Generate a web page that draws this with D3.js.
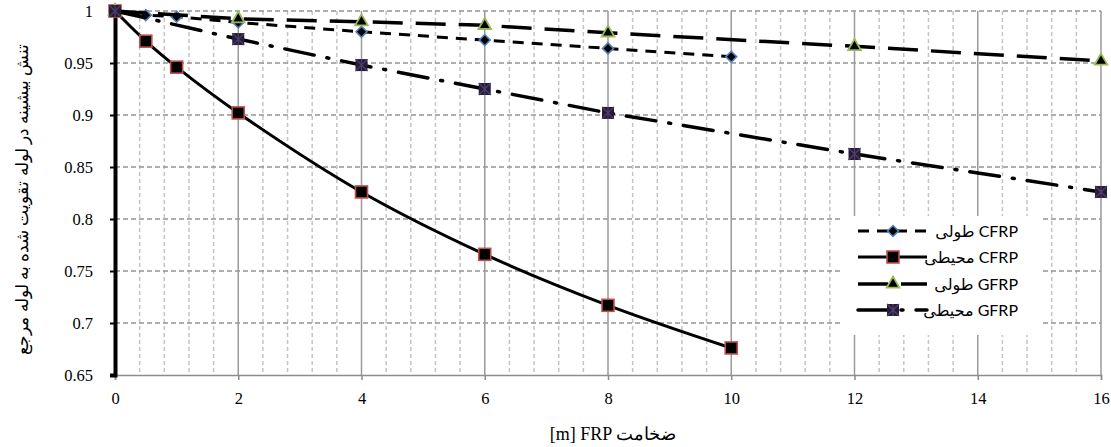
<!DOCTYPE html>
<html><head><meta charset="utf-8">
<script src="https://cdn.jsdelivr.net/npm/d3@7/dist/d3.min.js"></script>
<style>body{margin:0;background:#fff}svg{display:block}</style>
</head><body><svg id="c" width="1111" height="447"></svg>
<script>
const xTicks = [0,2,4,6,8,10,12,14,16];
const yTicks = [0.65,0.7,0.75,0.8,0.85,0.9,0.95,1];
const yTickLabels = ["0.65","0.7","0.75","0.8","0.85","0.9","0.95","1"];
const seriesNames = ["CFRP طولی","CFRP محیطی","GFRP طولی","GFRP محیطی"];
const legendLabels = ["طولی CFRP","محیطی CFRP","طولی GFRP","محیطی GFRP"];
const cfrpLongX = [0,0.5,1,2,4,6,8,10];
const cfrpLongY = [1,0.996,0.9945,0.989,0.980,0.972,0.964,0.956];
const cfrpHoopX = [0,0.5,1,2,4,6,8,10];
const cfrpHoopY = [1,0.971,0.946,0.902,0.826,0.766,0.717,0.676];
const gfrpLongX = [0,2,4,6,8,12,16];
const gfrpLongY = [1,0.9925,0.9897,0.9862,0.979,0.966,0.952];
const gfrpHoopX = [0,2,4,6,8,12,16];
const gfrpHoopY = [1,0.973,0.948,0.925,0.902,0.8625,0.826];
const xTitle = "[m] FRP ضخامت";
const yTitle = "تنش بیشینه در لوله تقویت شده به لوله مرجع";

const svg = d3.select("#c");
const x = d3.scaleLinear().domain([0,16]).range([115,1101]);
const y = d3.scaleLinear().domain([0.65,1]).range([375,11]);
const serif = "'Liberation Serif','Times New Roman','DejaVu Serif',serif";
const sans = "Lato,'Liberation Sans','DejaVu Sans',sans-serif";

// minor vertical grid
const minor = d3.range(0,16.001,0.4).filter(v => Math.abs(v/2-Math.round(v/2))>1e-6);
svg.append("g").selectAll("line").data(minor).join("line")
  .attr("x1",d=>x(d)).attr("x2",d=>x(d)).attr("y1",y(1)).attr("y2",y(0.65))
  .attr("stroke","#c4c4c4").attr("stroke-width",1.5).attr("stroke-dasharray","4,3");
// horizontal grid
svg.append("g").selectAll("line").data(yTicks.filter(v=>v>0.65)).join("line")
  .attr("x1",x(0)).attr("x2",x(16)).attr("y1",d=>y(d)).attr("y2",d=>y(d))
  .attr("stroke","#949494").attr("stroke-width",1.5).attr("stroke-dasharray","5,3");
// major vertical grid
svg.append("g").selectAll("line").data(xTicks.filter(v=>v>0)).join("line")
  .attr("x1",d=>x(d)).attr("x2",d=>x(d)).attr("y1",y(1)).attr("y2",y(0.65))
  .attr("stroke","#9a9a9a").attr("stroke-width",1.5);

// x axis
const xAxis = d3.axisBottom(x).tickValues(xTicks).tickSize(5).tickFormat(d3.format("d"));
const gx = svg.append("g").attr("transform",`translate(0,${y(0.65)})`).call(xAxis);
gx.select(".domain").attr("stroke","#8c8c8c").attr("stroke-width",1.5);
gx.selectAll(".tick line").attr("stroke","#8c8c8c").attr("stroke-width",1.5);
gx.selectAll(".tick text").attr("fill","#000").attr("dy","1.3em")
  .style("font-family",serif).style("font-size","16.5px");

// y axis
const yAxis = d3.axisLeft(y).tickValues(yTicks).tickSize(5).tickFormat((d,i)=>yTickLabels[i]);
const gy = svg.append("g").attr("transform",`translate(${x(0)},0)`).call(yAxis);
gy.select(".domain").attr("stroke","#000").attr("stroke-width",4);
gy.selectAll(".tick line").attr("stroke","#000").attr("stroke-width",2);
gy.selectAll(".tick text").attr("fill","#000").attr("x",-22)
  .style("font-family",serif).style("font-size","16.5px");

const styles = [
  {dash:"11,8", width:3, curve:d3.curveLinear, marker:"diamond"},
  {dash:null, width:3, curve:d3.curveCatmullRom, marker:"square"},
  {dash:"30,13", width:3.5, curve:d3.curveLinear, marker:"triangle"},
  {dash:"30,13,2,13", width:3.5, curve:d3.curveLinear, marker:"xsquare"}
];
const data = [
  cfrpLongX.map((v,i)=>[v,cfrpLongY[i]]),
  cfrpHoopX.map((v,i)=>[v,cfrpHoopY[i]]),
  gfrpLongX.map((v,i)=>[v,gfrpLongY[i]]),
  gfrpHoopX.map((v,i)=>[v,gfrpHoopY[i]])
];

function drawMarker(g, type, cx, cy){
  if(type==="diamond"){
    g.append("path").attr("d",d3.symbol(d3.symbolSquare,60)())
      .attr("transform",`translate(${cx},${cy}) rotate(45)`)
      .attr("fill","#000").attr("stroke","#4f81bd").attr("stroke-width",1.6);
  } else if(type==="square"){
    g.append("rect").attr("x",cx-6).attr("y",cy-6).attr("width",12).attr("height",12)
      .attr("fill","#000").attr("stroke","#c0504d").attr("stroke-width",1.6);
  } else if(type==="triangle"){
    g.append("path").attr("d",d3.symbol(d3.symbolTriangle,70)())
      .attr("transform",`translate(${cx},${cy})`)
      .attr("fill","#000").attr("stroke","#9bbb59").attr("stroke-width",1.8);
  } else {
    g.append("rect").attr("x",cx-6).attr("y",cy-6).attr("width",12).attr("height",12)
      .attr("fill","#271c38");
    g.append("path").attr("d",`M${cx-6},${cy-6}L${cx+6},${cy+6}M${cx+6},${cy-6}L${cx-6},${cy+6}M${cx},${cy-6}L${cx},${cy+6}`)
      .attr("stroke","#4e3f6c").attr("stroke-width",1.2);
  }
}

data.forEach((pts,i)=>{
  const st = styles[i];
  const g = svg.append("g");
  const line = d3.line().x(d=>x(d[0])).y(d=>y(d[1])).curve(st.curve);
  g.append("path").attr("d",line(pts)).attr("fill","none").attr("stroke","#000")
    .attr("stroke-width",st.width).attr("stroke-dasharray",st.dash)
    .attr("stroke-linecap", i===3 ? "round":"butt");
  pts.forEach(p=>drawMarker(g, st.marker, x(p[0]), y(p[1])));
});

// legend
const lg = svg.append("g");
lg.append("rect").attr("x",841).attr("y",216).attr("width",200).attr("height",119).attr("fill","#fff");
const rowY = [231,257,284,310];
legendLabels.forEach((lab,i)=>{
  const st = styles[i];
  lg.append("line").attr("x1",858).attr("x2",927).attr("y1",rowY[i]).attr("y2",rowY[i])
    .attr("stroke","#000").attr("stroke-width",st.width).attr("stroke-dasharray",st.dash)
    .attr("stroke-linecap", i===3 ? "round":"butt");
  drawMarker(lg, st.marker, 893, rowY[i]);
  lg.append("text").attr("x",1018).attr("y",rowY[i]).attr("dy","0.35em")
    .attr("text-anchor","end").attr("font-family",sans).attr("font-size",16)
    .attr("direction","ltr").text(lab);
});

// titles
svg.append("text").attr("x",613).attr("y",440).attr("text-anchor","middle")
  .attr("font-family",serif).attr("font-size",18).attr("direction","ltr").text(xTitle);
svg.append("text").attr("transform","translate(28,199) rotate(-90)").attr("text-anchor","middle")
  .attr("font-family",serif).attr("font-size",17).attr("direction","rtl").text(yTitle);
</script></body></html>
